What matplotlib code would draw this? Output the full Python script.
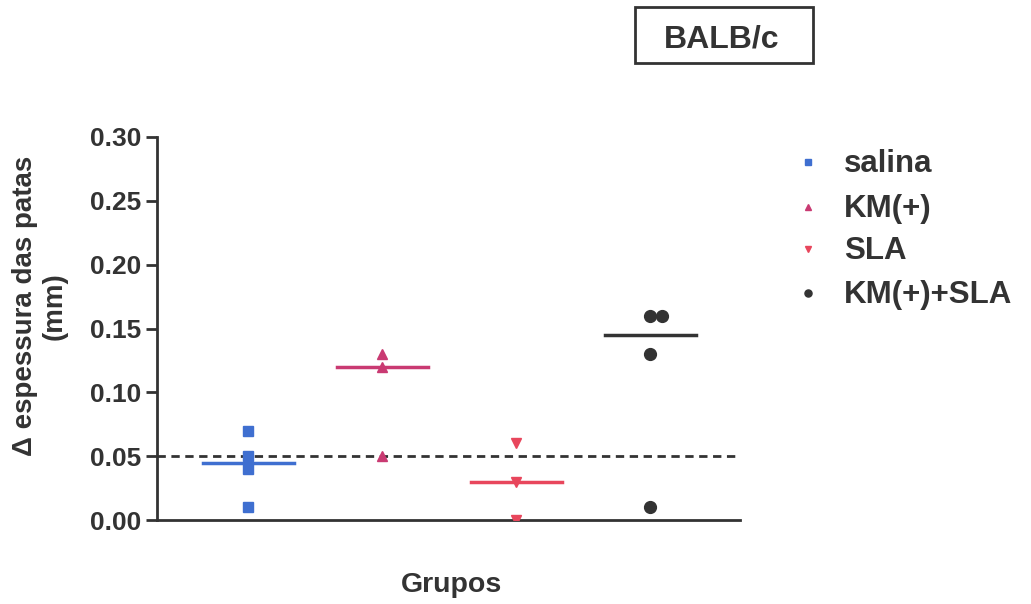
import matplotlib
matplotlib.use("Agg")
import matplotlib.pyplot as plt
from matplotlib.patches import Rectangle
from matplotlib.lines import Line2D

plt.rcParams['font.family'] = ['Liberation Sans', 'DejaVu Sans']
plt.rcParams['font.weight'] = 'bold'

groups = ["salina", "KM(+)", "SLA", "KM(+)+SLA"]
salina = [0.07, 0.05, 0.04, 0.01]
km = [0.13, 0.12, 0.05]
sla = [0.06, 0.03, 0.0]
km_sla = [0.16, 0.16, 0.13, 0.01]
km_sla_offset = [0.0, 0.085, 0.0, 0.0]
medians = [0.045, 0.12, 0.03, 0.145]
ref_line = 0.05
yticks = [0.00, 0.05, 0.10, 0.15, 0.20, 0.25, 0.30]

colors = ["#3f6fd0", "#c93a72", "#e8465c", "#333333"]
markers = ["s", "^", "v", "o"]
sizes = [7, 7, 7, 8.5]
series = [salina, km, sla, km_sla]
offsets = [[0]*len(salina), [0]*len(km), [0]*len(sla), km_sla_offset]

W, H = 1031, 604
fig = plt.figure(figsize=(W / 100, H / 100), dpi=100)
ax = fig.add_axes([157 / W, 1 - 520 / H, 583 / W, 383 / H])

ax.axhline(ref_line, color="#333333", lw=2, ls=(0, (3, 2)), zorder=1)

for i, (vals, off) in enumerate(zip(series, offsets)):
    xs = [i + o for o in off]
    ax.plot(xs, vals, ls="none", marker=markers[i], color=colors[i],
            markersize=sizes[i], zorder=3)
    ax.plot([i - 0.34, i + 0.34], [medians[i], medians[i]], color=colors[i],
            lw=2.5, zorder=2)

ax.set_xlim(-0.68, 3.67)
ax.set_ylim(0, 0.30)
ax.set_yticks(yticks)
ax.set_yticklabels([f"{t:.2f}" for t in yticks])
ax.set_xticks([])
for s in ["top", "right"]:
    ax.spines[s].set_visible(False)
for s in ["left", "bottom"]:
    ax.spines[s].set_linewidth(2)
    ax.spines[s].set_color("#333333")
ax.tick_params(axis="y", length=8, width=2, color="#333333",
               labelsize=19, labelcolor="#333333", pad=3)
for lbl in ax.get_yticklabels():
    lbl.set_fontweight("bold")

def fx(px):
    return px / W

def fy(py):
    return 1 - py / H

# y label
fig.text(fx(40), fy(306), "Δ espessura das patas\n(mm)", rotation=90,
         ha="center", va="center", fontsize=20, fontweight="bold",
         color="#333333", multialignment="center", linespacing=1.2)

# x label
fig.text(fx(451), fy(592), "Grupos", ha="center", va="baseline",
         fontsize=20.5, fontweight="bold", color="#333333")

# legend
leg_y = [162, 207, 249, 293]
for i in range(4):
    fig.add_artist(Line2D([fx(808)], [fy(leg_y[i])], ls="none",
                          marker=markers[i], color=colors[i],
                          markersize=sizes[i] * 0.6,
                          transform=fig.transFigure))
    fig.text(fx(844), fy(leg_y[i] + 10), groups[i], ha="left",
             va="baseline", fontsize=22.5, fontweight="bold",
             color="#333333")

# title box
fig.patches.append(Rectangle((fx(635), fy(63)), 178 / W, 56 / H,
                             transform=fig.transFigure, fill=False,
                             edgecolor="#333333", lw=2))
fig.text(fx(722), fy(48), "BALB/c", ha="center", va="baseline",
         fontsize=23, fontweight="bold", color="#333333")

fig.savefig("out.png", dpi=100)
